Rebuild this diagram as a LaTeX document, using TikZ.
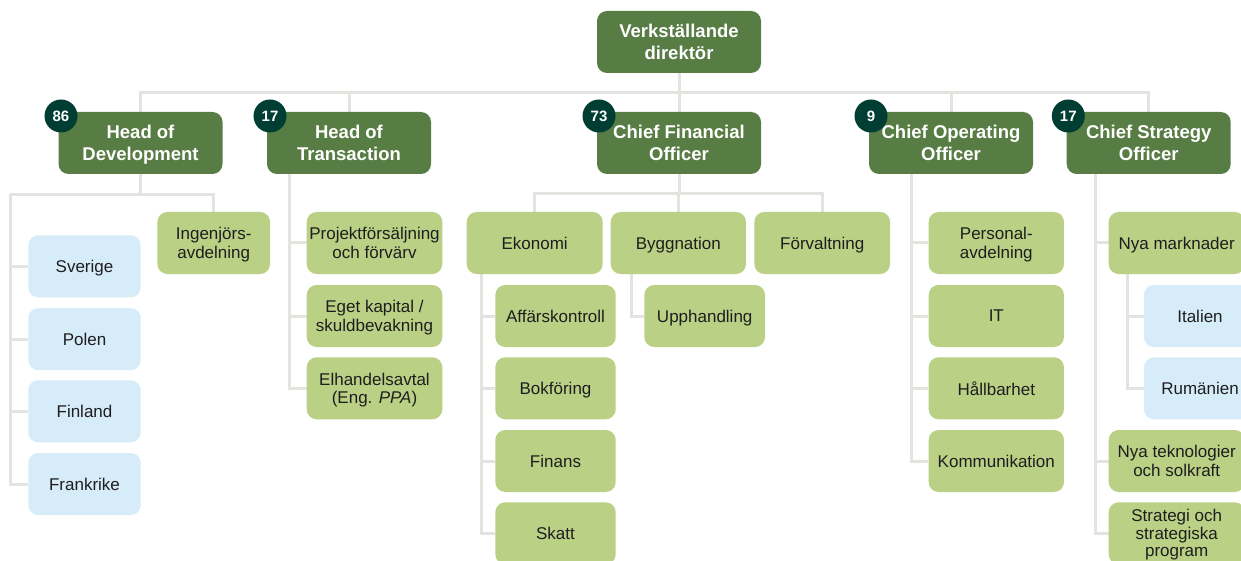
\documentclass[tikz,border=0pt]{standalone}
\usepackage{fontspec}
\setmainfont{Liberation Sans}
\usetikzlibrary{backgrounds}
\definecolor{dg}{RGB}{87,125,68}
\definecolor{lg}{RGB}{185,208,133}
\definecolor{lb}{RGB}{214,236,248}
\definecolor{bd}{RGB}{0,61,51}
\definecolor{ln}{RGB}{227,227,223}
\definecolor{tx}{RGB}{30,30,30}
\begin{document}
\begin{tikzpicture}[x=1pt,y=-1pt,
 box/.style={rounded corners=10pt, inner sep=0pt, minimum height=62pt, align=center, text depth=0pt},
 lead/.style={box, fill=dg, text=white, minimum width=164pt, font=\bfseries\fontsize{18.5}{21.7}\selectfont},
 unit/.style={box, fill=lg, text=tx, font=\fontsize{17}{18.5}\selectfont},
 land/.style={box, fill=lb, text=tx, font=\fontsize{17}{18.5}\selectfont},
 badge/.style={circle, fill=bd, text=white, inner sep=0pt, minimum size=33pt, font=\bfseries\fontsize{15}{15}\selectfont},
 conn/.style={draw=ln, line width=3pt}]
\useasboundingbox (0,0) rectangle (1241,561);
\clip (0,0) rectangle (1241,561);

% leaders
\node[lead] (ceo) at (679,42) {Verkställande\\direktör};
\node[lead] (hod) at (140.5,143) {Head of\\Development};
\node[lead] (hot) at (349,143) {Head of\\Transaction};
\node[lead] (cfo) at (679,143) {Chief Financial\\Officer};
\node[lead] (coo) at (951,143) {Chief Operating\\Officer};
\node[lead] (cso) at (1148.7,143) {Chief Strategy\\Officer};

\node[badge] (b1) at (61,116) {86};
\node[badge] (b2) at (270,116) {17};
\node[badge] (b3) at (599,116) {73};
\node[badge] (b4) at (871,116) {9};
\node[badge] (b5) at (1068.3,116) {17};

% Head of Development
\node[land, minimum width=112.4pt] (se) at (84.5,266.3) {Sverige};
\node[land, minimum width=112.4pt] (pl) at (84.5,339.2) {Polen};
\node[land, minimum width=112.4pt] (fi) at (84.5,411.3) {Finland};
\node[land, minimum width=112.4pt] (fr) at (84.5,484) {Frankrike};
\node[unit, minimum width=112.7pt] (ing) at (213.7,243) {Ingenjörs-\\avdelning};

% Head of Transaction
\node[unit, minimum width=135.6pt] (pf) at (374.5,243) {Projektförsäljning\\och förvärv};
\node[unit, minimum width=135.6pt] (ek) at (374.5,316) {Eget kapital /\\skuldbevakning};
\node[unit, minimum width=135.6pt] (el) at (374.5,388.3) {Elhandelsavtal\\(Eng. \textit{PPA})};

% CFO
\node[unit, minimum width=136pt] (eko) at (534.7,243) {Ekonomi};
\node[unit, minimum width=135.3pt] (bygg) at (678.3,243) {Byggnation};
\node[unit, minimum width=135.7pt] (forv) at (822.2,243) {Förvaltning};
\node[unit, minimum width=120.4pt] (afk) at (555.5,316) {Affärskontroll};
\node[unit, minimum width=120.4pt] (bok) at (555.5,388.3) {Bokföring};
\node[unit, minimum width=120.4pt] (fin) at (555.5,461) {Finans};
\node[unit, minimum width=120.4pt] (sk) at (555.5,533.3) {Skatt};
\node[unit, minimum width=120.7pt] (upp) at (704.7,316) {Upphandling};

% COO
\node[unit, minimum width=135.3pt] (pers) at (996.3,243) {Personal-\\avdelning};
\node[unit, minimum width=135.3pt] (it) at (996.3,316) {IT};
\node[unit, minimum width=135.3pt] (hb) at (996.3,388.3) {Hållbarhet};
\node[unit, minimum width=135.3pt] (kom) at (996.3,461) {Kommunikation};

% CSO
\node[unit, minimum width=136pt] (nm) at (1176.7,243) {Nya marknader};
\node[land, minimum width=112pt] (ita) at (1200,316) {Italien};
\node[land, minimum width=112pt] (rum) at (1200,388.3) {Rumänien};
\node[unit, minimum width=136pt] (nt) at (1176.7,461) {Nya teknologier\\och solkraft};
\node[unit, minimum width=136pt, font=\fontsize{17}{17.5}\selectfont] (strat) at (1176.7,533.3) {Strategi och\\strategiska\\program};

\begin{scope}[on background layer]
\fill[white] (0,0) rectangle (1241,561);
\coordinate (busY) at (0,93);
\draw[conn] (ceo.south) -- (cfo.north);
\draw[conn] (hod.north) -- (hod.north |- busY) -- (cso.north |- busY) -- (cso.north);
\draw[conn] (hot.north) -- (hot.north |- busY);
\draw[conn] (coo.north) -- (coo.north |- busY);

\coordinate (hodY) at (0,194.3);
\coordinate (hodL) at (10,194.3);
\draw[conn] (hod.south) -- (hod.south |- hodY);
\draw[conn] (hodL) |- (fr.west);
\draw[conn] (hodL) -| (ing.north);
\draw[conn] (hodL |- se.west) -- (se.west);
\draw[conn] (hodL |- pl.west) -- (pl.west);
\draw[conn] (hodL |- fi.west) -- (fi.west);

\coordinate (hotL) at (289,174);
\draw[conn] (hotL) |- (el.west);
\draw[conn] (hotL |- pf.west) -- (pf.west);
\draw[conn] (hotL |- ek.west) -- (ek.west);

\coordinate (cfoY) at (0,193.3);
\draw[conn] (cfo.south) -- (cfo.south |- cfoY);
\draw[conn] (eko.north) -- (eko.north |- cfoY) -- (forv.north |- cfoY) -- (forv.north);
\draw[conn] (bygg.north) -- (bygg.north |- cfoY);

\coordinate (ekoL) at (481.7,274);
\draw[conn] (ekoL) |- (sk.west);
\draw[conn] (ekoL |- afk.west) -- (afk.west);
\draw[conn] (ekoL |- bok.west) -- (bok.west);
\draw[conn] (ekoL |- fin.west) -- (fin.west);

\coordinate (byggL) at (631,274);
\draw[conn] (byggL) |- (upp.west);

\coordinate (cooL) at (911.7,174);
\draw[conn] (cooL) |- (kom.west);
\draw[conn] (cooL |- pers.west) -- (pers.west);
\draw[conn] (cooL |- it.west) -- (it.west);
\draw[conn] (cooL |- hb.west) -- (hb.west);

\coordinate (csoL) at (1095,174);
\draw[conn] (csoL) |- (strat.west);
\draw[conn] (csoL |- nm.west) -- (nm.west);
\draw[conn] (csoL |- nt.west) -- (nt.west);

\coordinate (nmL) at (1127.7,274);
\draw[conn] (nmL) |- (rum.west);
\draw[conn] (nmL |- ita.west) -- (ita.west);
\end{scope}
\end{tikzpicture}
\end{document}
